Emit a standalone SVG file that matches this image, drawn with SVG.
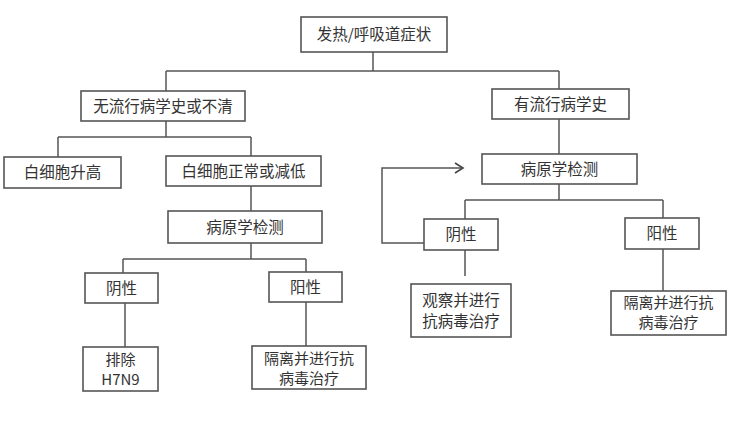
<svg xmlns="http://www.w3.org/2000/svg" width="730" height="422" viewBox="0 0 730 422">
<defs>
<marker id="arr" markerWidth="12" markerHeight="12" refX="10" refY="6" orient="auto" markerUnits="userSpaceOnUse">
<path d="M2,1 L10,6 L2,11" fill="none" stroke="#444" stroke-width="1.6"/>
</marker>
</defs>
<style>
.box{fill:#fff;stroke:#555;stroke-width:1.6}
.t{font-family:"Noto Sans CJK SC","Noto Sans",sans-serif;font-size:15.5px;fill:#333;text-anchor:middle}
.t2{font-family:"Noto Sans CJK SC","Noto Sans",sans-serif;font-size:15px;fill:#333;text-anchor:middle}
.ln{fill:none;stroke:#555;stroke-width:1.5}
</style>
<rect width="730" height="422" fill="#fff"/>
<g id="connectors">
<path class="ln" d="M373,52 V71 M166,71 H559 M166,71 V91 M559,71 V89"/>
<path class="ln" d="M166,121 V137 M58,137 H251 M58,137 V157 M251,137 V156 M251,186 V211"/>
<path class="ln" d="M251,243 V259 M123,259 H306 M123,259 V273 M306,259 V272 M125,303 V347 M306,302 V346"/>
<path class="ln" d="M559,119 V154 M559,184 V200 M465,200 H663 M465,200 V219 M663,200 V218 M465,250 V276 M663,249 V291"/>
<path class="ln" d="M424,243 H382 V168 H463" marker-end="url(#arr)"/>
</g>
<g id="n1"><rect class="box" x="301" y="17" width="146" height="35"/><text class="t" x="374" y="40">发热/呼吸道症状</text></g>
<g id="n2"><rect class="box" x="81" y="91" width="164" height="30"/><text class="t" x="163" y="111.5">无流行病学史或不清</text></g>
<g id="n3"><rect class="box" x="492" y="89" width="137" height="30"/><text class="t" x="560.5" y="109.5">有流行病学史</text></g>
<g id="n4"><rect class="box" x="4" y="157" width="117" height="31"/><text class="t" x="62.5" y="178">白细胞升高</text></g>
<g id="n5"><rect class="box" x="166" y="156" width="155" height="30"/><text class="t" x="243.5" y="176.5">白细胞正常或减低</text></g>
<g id="n6"><rect class="box" x="168" y="211" width="154" height="32"/><text class="t" x="245" y="232.5">病原学检测</text></g>
<g id="n7"><rect class="box" x="85" y="273" width="73" height="30"/><text class="t" x="121.5" y="293.5">阴性</text></g>
<g id="n8"><rect class="box" x="269" y="272" width="73" height="30"/><text class="t" x="305.5" y="292.5">阳性</text></g>
<g id="n9"><rect class="box" x="83" y="347" width="75" height="44"/><text class="t2" x="120.5" y="365"><tspan x="120.5" y="365">排除</tspan><tspan x="120.5" y="385">H7N9</tspan></text></g>
<g id="n10"><rect class="box" x="252" y="346" width="114" height="43"/><text class="t2" x="309" y="364"><tspan x="309" y="364">隔离并进行抗</tspan><tspan x="309" y="384">病毒治疗</tspan></text></g>
<g id="n11"><rect class="box" x="482" y="154" width="155" height="30"/><text class="t" x="559.5" y="174.5">病原学检测</text></g>
<g id="n12"><rect class="box" x="424" y="219" width="74" height="31"/><text class="t" x="461" y="240">阴性</text></g>
<g id="n13"><rect class="box" x="625" y="218" width="74" height="31"/><text class="t" x="662" y="239">阳性</text></g>
<g id="n14"><rect class="box" x="411" y="284" width="100" height="53"/><text class="t" x="461" y="306"><tspan x="461" y="306">观察并进行</tspan><tspan x="461" y="327">抗病毒治疗</tspan></text></g>
<g id="n15"><rect class="box" x="611" y="291" width="115" height="44"/><text class="t2" x="668.5" y="308"><tspan x="668.5" y="308">隔离并进行抗</tspan><tspan x="668.5" y="328">病毒治疗</tspan></text></g>
</svg>
